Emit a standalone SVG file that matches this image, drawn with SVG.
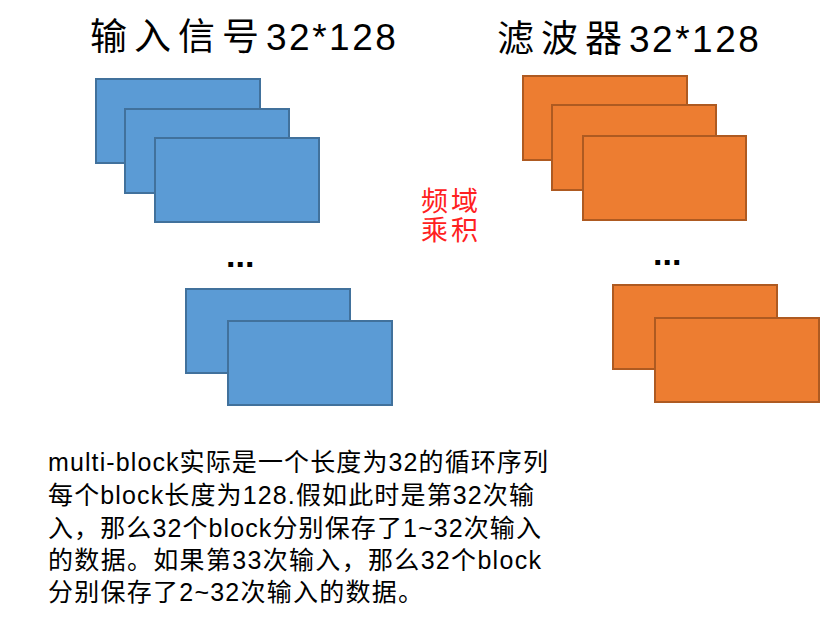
<svg xmlns="http://www.w3.org/2000/svg" width="832" height="622" viewBox="0 0 832 622">
<style>
  text { font-family: "Liberation Sans", "Noto Sans CJK SC", sans-serif; }
  .title { font-size: 37px; fill: #000; }
  .cjk { letter-spacing: 7px; }
  .num { letter-spacing: 2.5px; }
  .blue { fill: #5B9BD5; stroke: #41719C; stroke-width: 2; }
  .orange { fill: #ED7D31; stroke: #AE5A21; stroke-width: 2; }
  .dots { font-size: 34px; font-weight: bold; fill: #000; }
  .red { font-size: 27px; fill: #FF2020; }
  .body { font-size: 25px; fill: #000; }
</style>
<rect width="832" height="622" fill="#fff"/>
<g id="title-input">
  <text class="title" x="90" y="50"><tspan class="cjk">输入信号</tspan><tspan class="num">32*128</tspan></text>
</g>
<g id="title-filter">
  <text class="title" x="497" y="52"><tspan class="cjk">滤波器</tspan><tspan class="num">32*128</tspan></text>
</g>
<g id="input-block-1"><rect class="blue" x="96" y="79" width="164" height="84"/></g>
<g id="input-block-2"><rect class="blue" x="125" y="109" width="164" height="84"/></g>
<g id="input-block-3"><rect class="blue" x="155" y="138" width="164" height="84"/></g>
<g id="input-dots"><text class="dots" x="226" y="267">...</text></g>
<g id="input-block-31"><rect class="blue" x="186" y="289" width="164" height="84"/></g>
<g id="input-block-32"><rect class="blue" x="228" y="321" width="164" height="84"/></g>
<g id="filter-block-1"><rect class="orange" x="523" y="76" width="164" height="84"/></g>
<g id="filter-block-2"><rect class="orange" x="552" y="105" width="164" height="85"/></g>
<g id="filter-block-3"><rect class="orange" x="583" y="136" width="163" height="84"/></g>
<g id="filter-dots"><text class="dots" x="653" y="265">...</text></g>
<g id="filter-block-31"><rect class="orange" x="613" y="285" width="164" height="84"/></g>
<g id="filter-block-32"><rect class="orange" x="655" y="318" width="164" height="84"/></g>
<g id="label-product">
  <text class="red" x="421" y="211" textLength="57" lengthAdjust="spacing">频域</text>
  <text class="red" x="421" y="240" textLength="57" lengthAdjust="spacing">乘积</text>
</g>
<g id="note">
  <text class="body" x="48" y="471" textLength="500" lengthAdjust="spacing">multi-block实际是一个长度为32的循环序列</text>
  <text class="body" x="48" y="504" textLength="486" lengthAdjust="spacing">每个block长度为128.假如此时是第32次输</text>
  <text class="body" x="48" y="537" textLength="493" lengthAdjust="spacing">入，那么32个block分别保存了1~32次输入</text>
  <text class="body" x="48" y="569" textLength="493" lengthAdjust="spacing">的数据。如果第33次输入，那么32个block</text>
  <text class="body" x="48" y="601" textLength="375" lengthAdjust="spacing">分别保存了2~32次输入的数据。</text>
</g>
</svg>
